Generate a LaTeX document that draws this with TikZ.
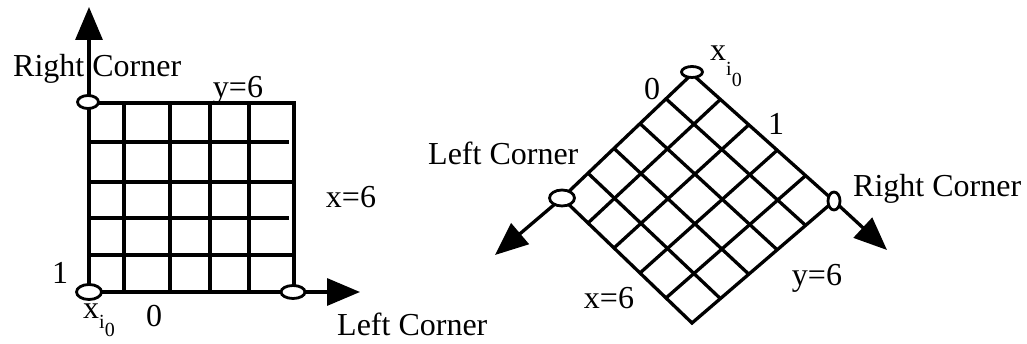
\documentclass[tikz,border=0pt]{standalone}
\usepackage{fontspec}
\setmainfont{Liberation Serif}
\usetikzlibrary{arrows.meta,shapes.geometric,calc}
\newcommand{\xio}[2]{x\raisebox{-#1}{\fontsize{20}{20}\selectfont i\raisebox{-#2}{0}}}

\begin{document}
\begin{tikzpicture}[x=1pt,y=-1pt,>={Triangle[length=33pt,width=27pt]},
  grid line/.style={line width=3.3pt},
  corner/.style={ellipse,draw,fill=white,line width=2.8pt,inner sep=0pt},
  lbl/.style={font=\fontsize{32}{36}\selectfont,inner sep=0pt}]
  \useasboundingbox (0,0) rectangle (1027,344);

  % Square lattice, origin at bottom left
  \coordinate (sqo) at (89,292);
  \coordinate (sqtl) at (88,102);
  \coordinate (sqbr) at (293,292);
  \coordinate (sqtop) at (89,7);
  \coordinate (sqright) at (360,292);
  \draw[grid line] (89,103) rectangle (294,292);
  \foreach \gx in {124,170,210,249}
    \draw[grid line] (\gx,103) -- (\gx,292);
  \foreach \gy/\gend in {142/289,182/294,218/289,255/294}
    \draw[grid line] (89,\gy) -- (\gend,\gy);
  % Axes
  \draw[grid line,->] (sqo) -- (sqtop);
  \draw[grid line,->] (sqo) -- (sqright);
  % Corners
  \node[corner,minimum width=25pt,minimum height=15pt] (sqlo) at (sqo) {};
  \node[corner,minimum width=21pt,minimum height=13pt] (sqrc) at (sqtl) {};
  \node[corner,minimum width=24pt,minimum height=13pt] (sqlc) at (sqbr) {};

  % Labels of the square
  \node[lbl,anchor=base west] (rc1) at (13,77) {Right Corner};
  \node[lbl] (y1) at (238,90) {y=6};
  \node[lbl] (x1) at (351,197) {x=6};
  \node[lbl] (one1) at (60,273) {1};
  \node[lbl,anchor=base west] (xo1) at (83,318) {\xio{10pt}{8pt}};
  \node[lbl] (z1) at (154,316) {0};
  \node[lbl,anchor=base west] (lc1) at (337,335) {Left Corner};

  % Rotated lattice, origin at the top
  \coordinate (dt) at (692,74);
  \coordinate (dl) at (562,198);
  \coordinate (db) at (692,323);
  \coordinate (dr) at (834,201);
  \coordinate (dltip) at (495,255);
  \coordinate (drtip) at (887,250);
  \draw[grid line] (dt) -- (dr) -- (db) -- (dl) -- cycle;
  \foreach \k in {1,...,4} {
    \draw[grid line] ($(dt)!\k/5!(dl)$) -- ($(dr)!\k/5!(db)$);
    \draw[grid line] ($(dt)!\k/5!(dr)$) -- ($(dl)!\k/5!(db)$);
  }
  % Axes
  \draw[grid line,->] (dl) -- (dltip);
  \draw[grid line,->] (dr) -- (drtip);
  % Corners
  \node[corner,minimum width=21pt,minimum height=11pt] (dto) at (692,72) {};
  \node[corner,minimum width=25pt,minimum height=16pt] (dlc) at (dl) {};
  \node[corner,minimum width=12pt,minimum height=18pt] (drc) at (dr) {};

  % Labels of the diamond
  \node[lbl,anchor=base west] (xo2) at (710,61) {\xio{15pt}{11pt}};
  \node[lbl] (z2) at (652,89) {0};
  \node[lbl] (one2) at (776,124) {1};
  \node[lbl,anchor=base west] (lc2) at (428,165) {Left Corner};
  \node[lbl,anchor=base west] (rc2) at (853,197) {Right Corner};
  \node[lbl] (y2) at (817,278) {y=6};
  \node[lbl] (x2) at (609,298) {x=6};
\end{tikzpicture}
\end{document}
